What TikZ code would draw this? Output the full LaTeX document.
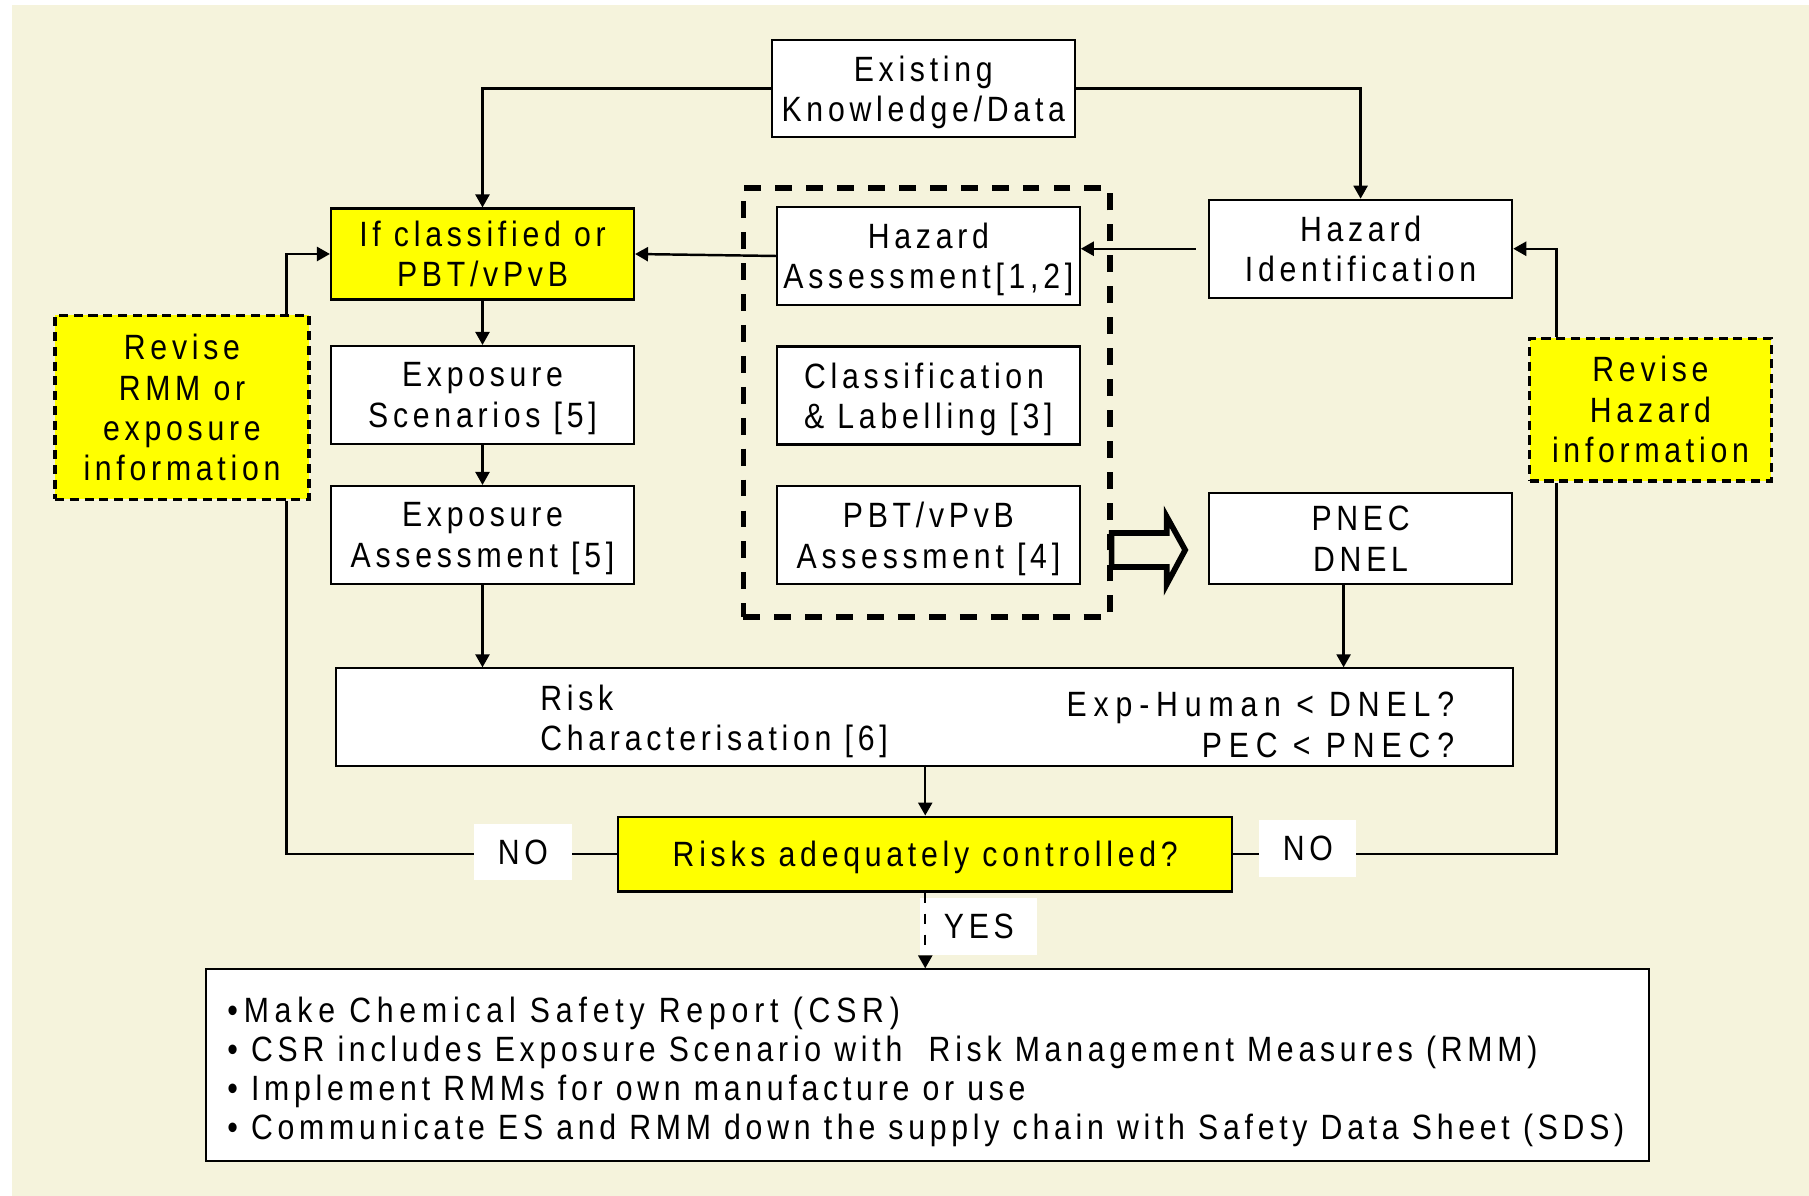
\documentclass[tikz,border=0pt]{standalone}
\usepackage{fontspec}
\setmainfont{Liberation Sans}[FakeStretch=0.86,LetterSpace=13.5]
\usepackage{tikz}
\usetikzlibrary{arrows.meta,calc}
\usepackage{xcolor}
\definecolor{bgbeige}{RGB}{245,243,220}
\definecolor{markyellow}{RGB}{255,255,0}
\tikzset{
    box/.style={rectangle, draw=black, fill=white, line width=0.6pt, inner sep=0pt, align=center, text depth=0pt, font=\fontsize{10}{11.5}\selectfont},
    ybox/.style={box, fill=markyellow},
    rbox/.style={box, fill=markyellow, line width=0.9pt, dash pattern=on 2.6pt off 1.6pt},
    grp/.style={rectangle, draw=black, line width=1.6pt, dash pattern=on 4.8pt off 4pt},
    lab/.style={rectangle, fill=white, inner sep=0pt, font=\fontsize{10}{11.4}\selectfont},
    txt/.style={inner sep=0pt, font=\fontsize{10}{11.5}\selectfont},
    link/.style={line width=0.7pt, black},
}

\begin{document}
\begin{tikzpicture}[>={Triangle[length=1.3mm,width=1.4mm]}]
    % page and background
    \fill[white] (0,0) rectangle (18.09,-11.96);
    \fill[bgbeige] (0.115,-0.046) rectangle (18.09,-11.96);
    \useasboundingbox (0,0) rectangle (18.09,-11.96);

    % left column
    \node[box, minimum width=3.035cm, minimum height=0.97cm] (know) at (9.233,-0.885) {Existing\\Knowledge/Data};
    \node[ybox, minimum width=3.03cm, minimum height=0.91cm] (clsf) at (4.825,-2.54) {If classified or\\PBT/vPvB};
    \node[box, minimum width=3.03cm, minimum height=0.98cm] (expsc) at (4.825,-3.95) {Exposure\\Scenarios [5]};
    \node[box, minimum width=3.03cm, minimum height=0.98cm] (expas) at (4.825,-5.35) {Exposure\\Assessment [5]};
    \node[rbox, minimum width=2.54cm, minimum height=1.84cm] (revrmm) at (1.82,-4.075) {Revise\\RMM or\\exposure\\information};

    % hazard group
    \node[grp, minimum width=3.665cm, minimum height=4.29cm] (hazgrp) at (9.267,-4.025) {};
    \node[box, minimum width=3.027cm, minimum height=0.98cm] (hazas) at (9.284,-2.56) {Hazard\\Assessment[1,2]};
    \node[box, minimum width=3.027cm, minimum height=0.98cm, align=left] (clab) at (9.284,-3.955) {Classification\\\& Labelling [3]};
    \node[box, minimum width=3.027cm, minimum height=0.98cm] (pbtas) at (9.284,-5.352) {PBT/vPvB\\Assessment [4]};

    % right column
    \node[box, minimum width=3.032cm, minimum height=0.98cm] (hazid) at (13.606,-2.4875) {Hazard\\Identification};
    \node[box, minimum width=3.032cm, minimum height=0.914cm] (pnec) at (13.606,-5.387) {PNEC\\DNEL};
    \node[rbox, minimum width=2.417cm, minimum height=1.427cm] (revhaz) at (16.505,-4.0965) {Revise\\Hazard\\information};

    % risk rows
    \node[box, minimum width=11.769cm, minimum height=0.973cm] (risk) at (9.2485,-7.1705) {};
    \node[txt, anchor=west, align=left] (riskl) at (5.396,-7.215) {Risk\\Characterisation [6]};
    \node[txt, anchor=east, align=right, font=\fontsize{10}{11.5}\selectfont\addfontfeatures{LetterSpace=19.5}] (riskr) at (14.548,-7.25) {Exp-Human < DNEL?\\PEC < PNEC?};

    \node[ybox, minimum width=6.139cm, minimum height=0.749cm] (ctrl) at (9.2525,-8.5405) {Risks adequately controlled?};

    \node[box, minimum width=14.43cm, minimum height=1.916cm] (csr) at (9.275,-10.652) {};
    \node[txt, anchor=west, align=left, font=\fontsize{10}{11.15}\selectfont] (csrtxt) at (2.267,-10.72) {%
        {\addfontfeatures{LetterSpace=16.5}•Make Chemical Safety Report (CSR)}\\
        • CSR includes Exposure Scenario with~ Risk Management Measures (RMM)\\
        • Implement RMMs for own manufacture or use\\
        • Communicate ES and RMM down the supply chain with Safety Data Sheet (SDS)};

    % wide arrow out of the hazard group
    \draw[line width=1.6pt, fill=bgbeige] (11.116,-5.33) -- (11.667,-5.33) -- (11.667,-5.166)
        -- (11.852,-5.50) -- (11.667,-5.844) -- (11.667,-5.67) -- (11.116,-5.67) -- cycle;

    % connectors
    \draw[link, ->] (know.west) -| (clsf.north);
    \draw[link, ->] (know.east) -| (hazid.north);
    \draw[link, ->, shorten <=0.12cm] (hazid.west) -- (hazid.west -| hazas.east);
    \draw[link, ->] (hazas.west) -- (clsf.east);
    \draw[link, ->] (clsf) -- (expsc);
    \draw[link, ->] (expsc) -- (expas);
    \draw[link, ->] (expas.south) -- (expas.south |- risk.north);
    \draw[link, ->] ($(pnec.south)+(-0.17,0)$) -- ($(pnec.south |- risk.north)+(-0.17,0)$);
    \draw[link, ->] (ctrl.north |- risk.south) -- (ctrl.north);
    \draw[link, ->] ($(revrmm.north east)+(-0.24,0)$) |- (clsf.west);
    \draw[link, ->] ($(revhaz.north west)+(0.285,0)$) |- (hazid.east);

    % loops back
    \draw[link] (ctrl.west) -| ($(revrmm.south east)+(-0.24,0)$);
    \draw[link] (ctrl.east) -| ($(revhaz.south west)+(0.285,0)$);

    \node[lab, minimum width=0.987cm, minimum height=0.563cm] (nol) at (5.23,-8.5235) {NO};
    \node[lab, minimum width=0.968cm, minimum height=0.567cm] (nor) at (13.078,-8.4835) {NO};
    \node[lab, minimum width=1.171cm, minimum height=0.562cm] (yes) at (9.789,-9.265) {YES};

    \draw[link, dashed, ->] (ctrl.south) -- (ctrl.south |- csr.north);
\end{tikzpicture}
\end{document}
